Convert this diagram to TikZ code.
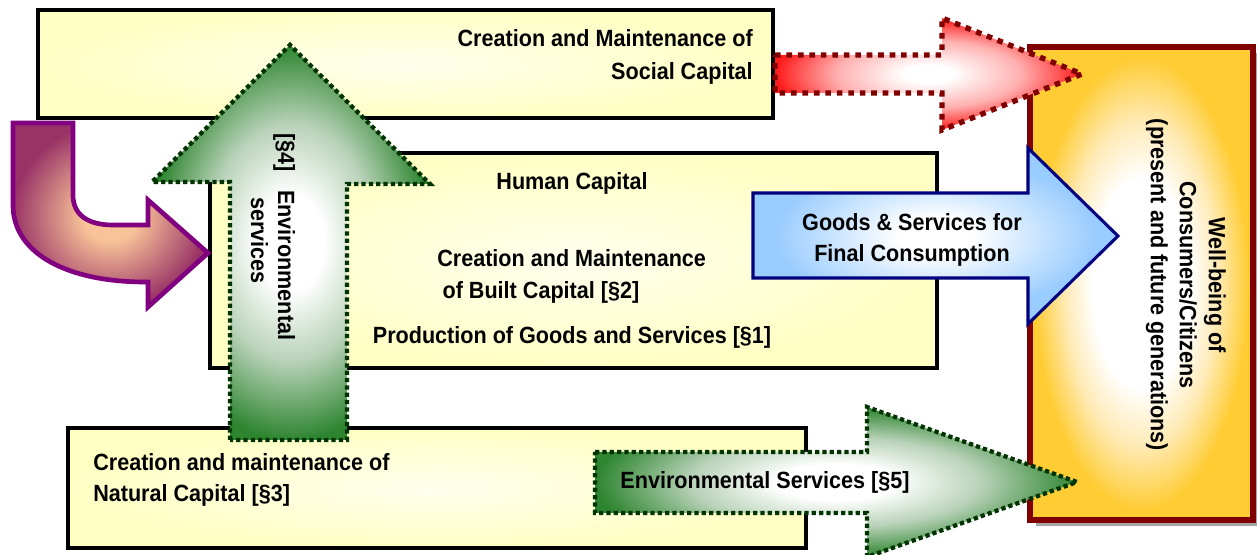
\documentclass[tikz,border=0pt]{standalone}
\usepackage{fontspec}
\setmainfont{Liberation Sans}[FakeStretch=0.92]
\definecolor{dkgreen}{HTML}{003300}
\definecolor{midgreen}{HTML}{2E8530}
\definecolor{lgreen}{HTML}{B8D2B8}
\definecolor{dkred}{HTML}{800000}
\definecolor{brightred}{HTML}{FF1A1A}
\definecolor{lred}{HTML}{FFB0B0}
\definecolor{navy}{HTML}{000080}
\definecolor{ltblue}{HTML}{99CCFF}
\definecolor{purp}{HTML}{800080}
\definecolor{maroonc}{HTML}{993366}
\definecolor{peach}{HTML}{F8C398}
\definecolor{gold}{HTML}{FFCC33}
\definecolor{lgold}{HTML}{FFEBB8}
\definecolor{paleyel}{HTML}{FFFFC4}
\definecolor{paleyelc}{HTML}{FFFFEE}
\pgfdeclareradialshading{greenglow}{\pgfpoint{0bp}{0bp}}{color(0bp)=(white); color(6bp)=(white); color(15bp)=(lgreen); color(25bp)=(midgreen); color(50bp)=(midgreen)}
\pgfdeclareradialshading{redglow}{\pgfpoint{0bp}{0bp}}{color(0bp)=(white); color(4bp)=(white); color(15bp)=(lred); color(25bp)=(brightred); color(50bp)=(brightred)}
\pgfdeclareradialshading{blueglow}{\pgfpoint{0bp}{0bp}}{color(0bp)=(white); color(5bp)=(white); color(22bp)=(ltblue); color(50bp)=(ltblue)}
\pgfdeclareradialshading{purpglow}{\pgfpoint{0bp}{0bp}}{color(0bp)=(peach); color(7bp)=(peach); color(25bp)=(maroonc); color(50bp)=(maroonc)}
\pgfdeclareradialshading{goldglow}{\pgfpoint{0bp}{0bp}}{color(0bp)=(white); color(11bp)=(white); color(17bp)=(lgold); color(24bp)=(gold); color(50bp)=(gold)}
\pgfdeclareradialshading{yelglow}{\pgfpoint{0bp}{0bp}}{color(0bp)=(paleyelc); color(25bp)=(paleyel); color(50bp)=(paleyel)}
\tikzset{
  lbl/.style={font=\fontsize{17.6}{23.25}\selectfont\bfseries, inner sep=0pt},
  capbox/.style={shading=yelglow, draw=black, line width=3pt},
  greenarrow/.style={shading=greenglow, draw=dkgreen, line width=3.2pt, dash pattern=on 3.2pt off 2.3pt},
  redarrow/.style={shading=redglow, draw=dkred, line width=4pt, dash pattern=on 4.2pt off 4.4pt},
}
\begin{document}
\begin{tikzpicture}[x=0.75pt,y=-0.75pt]
\useasboundingbox (0,0) rectangle (1257,555);
% well-being box
\fill[gray!70] (1036,53) rectangle (1259,526);
\path[shading=goldglow, draw=dkred, line width=4pt] (1030,47) rectangle (1253,520);
% capital boxes
\path[capbox] (38,10) rectangle (773,118);
\path[capbox] (210,153) rectangle (937,368);
\path[capbox] (68,428) rectangle (806,548);
% purple bent arrow
\path[shading=purpglow, draw=purp, line width=3.5pt, line join=miter]
  (13,123) -- (13,205) .. controls (13,255) and (70,282) .. (145,282) -- (148,282)
  -- (148,307) -- (208,253) -- (148,200) -- (148,225) -- (113,225)
  .. controls (88,225) and (73,215) .. (73,195) -- (73,123) -- cycle;
% green up arrow
\path[greenarrow] (230,440) -- (230,182) -- (152,182) -- (290,45) -- (430,184) -- (347,184) -- (347,440) -- cycle;
% red arrow
\path[redarrow] (775,55) -- (942,55) -- (942,18) -- (1082,74) -- (942,130) -- (942,93) -- (775,93) -- cycle;
% blue arrow
\path[shading=blueglow, draw=navy, line width=2.3pt] (753,193) -- (1028,193) -- (1028,148) -- (1118,236) -- (1028,324) -- (1028,278) -- (753,278) -- cycle;
% green right arrow
\path[greenarrow] (595,452) -- (867,452) -- (867,407) -- (1077,482) -- (867,557) -- (867,513) -- (595,513) -- cycle;
% texts
\node[lbl, align=right, anchor=east, font=\fontsize{17.6}{24.75}\selectfont\bfseries] (social) at (753,57) {Creation and Maintenance of\\Social Capital};
\node[lbl] (human) at (572,183) {Human Capital};
\node[lbl, align=left, anchor=west, font=\fontsize{17.6}{24}\selectfont\bfseries] (built) at (437,276) {Creation and Maintenance\\\hspace*{4pt}of Built Capital [§2]};
\node[lbl] (prod) at (572,337) {Production of Goods and Services [§1]};
\node[lbl, align=center] (goods) at (912,240) {Goods \& Services for\\Final Consumption};
\node[lbl, align=left, anchor=west] (natural) at (93,480) {Creation and maintenance of\\Natural Capital [§3]};
\node[lbl] (env5) at (765,482) {Environmental Services [§5]};
\node[lbl, align=left, anchor=west, rotate=-90, font=\fontsize{17.6}{20.25}\selectfont\bfseries] (env4) at (273,133) {[§4]\hspace{14pt}Environmental\\\hspace*{48pt}services};
\node[lbl, align=center, rotate=-90, font=\fontsize{17.6}{21.75}\selectfont\bfseries] (wb) at (1186,285) {Well-being of\\Consumers/Citizens\\(present and future generations)};
\end{tikzpicture}
\end{document}
